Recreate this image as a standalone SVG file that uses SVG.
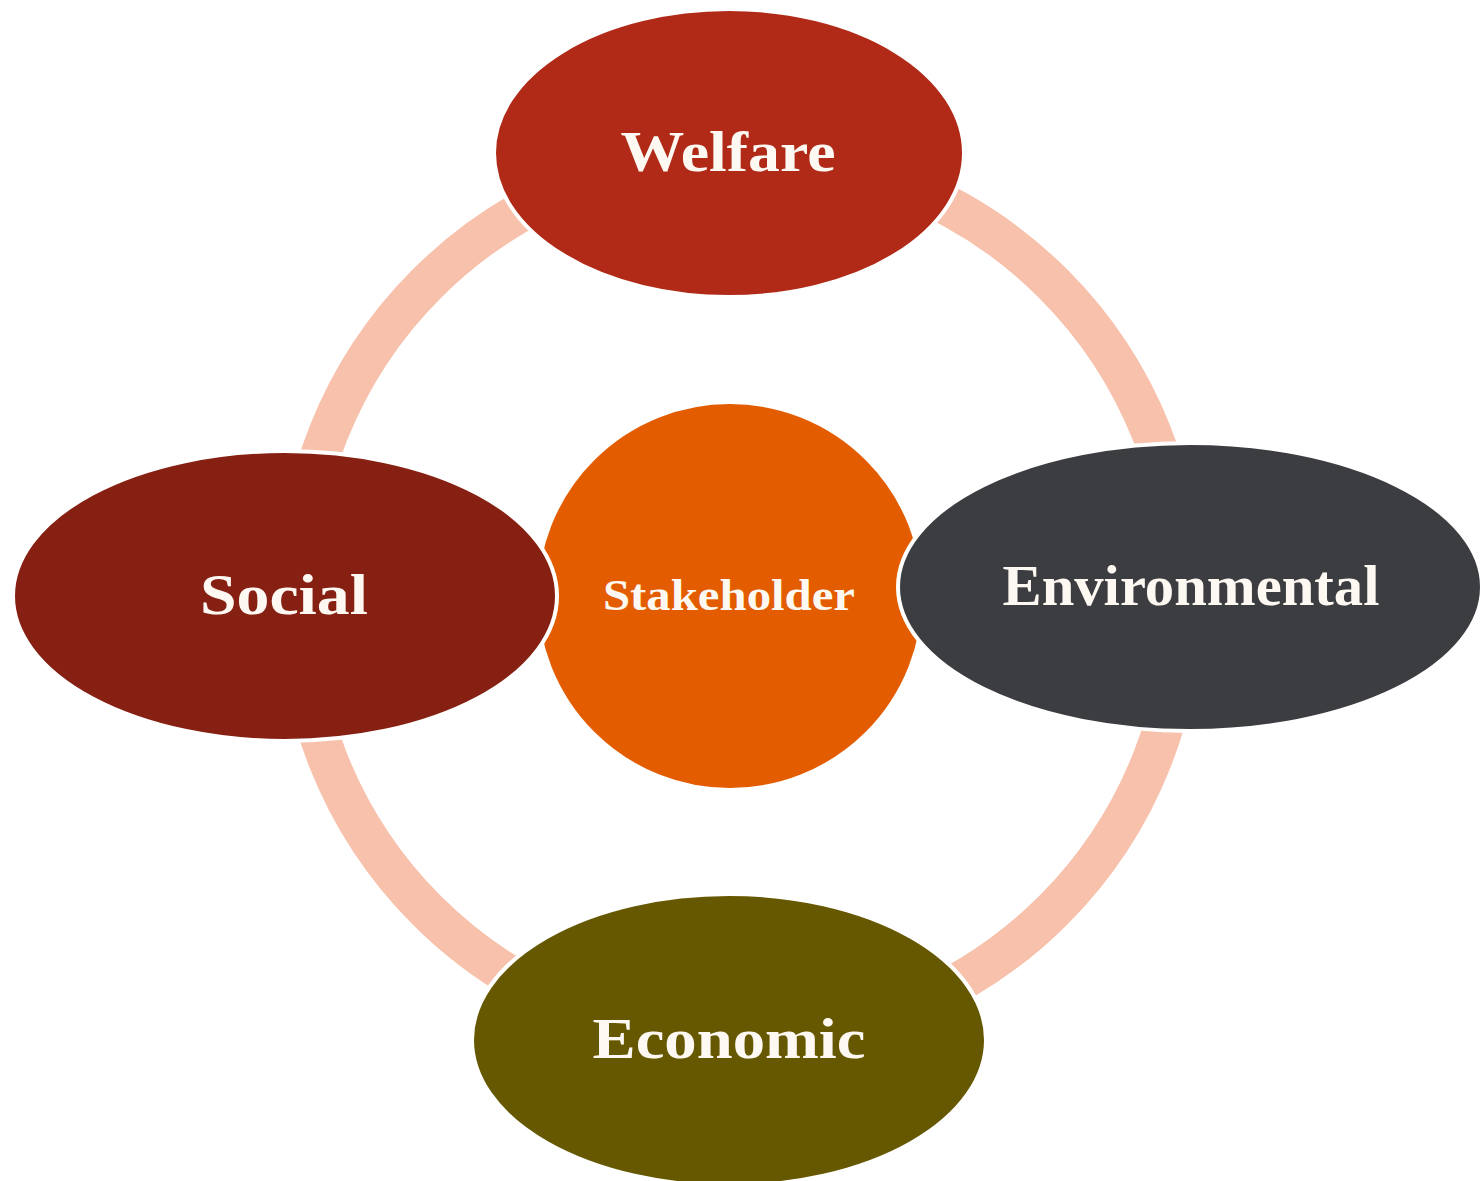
<svg xmlns="http://www.w3.org/2000/svg" width="1484" height="1181" viewBox="0 0 1484 1181">
<style>
.node { stroke: #ffffff; stroke-width: 4; }
.lbl { font-family: "Liberation Serif", "DejaVu Serif", serif; font-weight: bold; fill: #fdf9f2; text-anchor: middle; }
.big { font-size: 58px; }
.small { font-size: 44px; }
</style>
<rect width="1484" height="1181" fill="#ffffff"/>
<g id="connectors">
  <circle cx="740" cy="597" r="443" fill="none" stroke="#f8c1ab" stroke-width="40"/>
</g>
<g id="stakeholder">
  <circle class="node" cx="730" cy="596" r="194" fill="#e35d00"/>
  <text class="lbl small" x="729" y="610" textLength="252" lengthAdjust="spacingAndGlyphs">Stakeholder</text>
</g>
<g id="welfare">
  <ellipse class="node" cx="729" cy="153" rx="235" ry="144" fill="#b02a17"/>
  <text class="lbl big" x="728" y="171" textLength="215" lengthAdjust="spacingAndGlyphs">Welfare</text>
</g>
<g id="social">
  <ellipse class="node" cx="285" cy="596" rx="272" ry="145" fill="#862012"/>
  <text class="lbl big" x="284" y="614" textLength="168" lengthAdjust="spacingAndGlyphs">Social</text>
</g>
<g id="environmental">
  <ellipse class="node" cx="1190" cy="587" rx="292" ry="144" fill="#3c3d41"/>
  <text class="lbl big" x="1191" y="605" textLength="377" lengthAdjust="spacingAndGlyphs">Environmental</text>
</g>
<g id="economic">
  <ellipse class="node" cx="729" cy="1040" rx="257" ry="146" fill="#665800"/>
  <text class="lbl big" x="729" y="1058" textLength="273" lengthAdjust="spacingAndGlyphs">Economic</text>
</g>
</svg>
